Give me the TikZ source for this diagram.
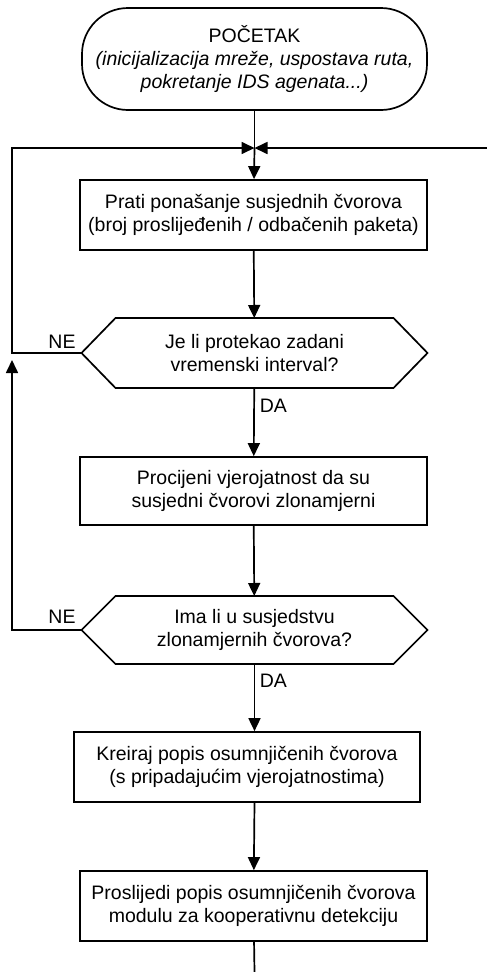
\documentclass[tikz,border=0pt]{standalone}
\usepackage{fontspec}
\setmainfont{Liberation Sans}
\usetikzlibrary{arrows.meta}

\begin{document}
\begin{tikzpicture}[x=1pt,y=1pt,line width=1.7pt,>={Triangle[length=13pt,width=12pt]},
  font=\fontsize{19.5}{23}\selectfont,
  box/.style={draw,minimum width=347pt,minimum height=70pt,align=center,inner sep=0pt},
  cond/.style={minimum width=278pt,minimum height=70pt,align=center,inner sep=0pt,outer sep=0pt},
  lbl/.style={inner sep=0pt}]
  \useasboundingbox (0,0) rectangle (487,-972);
  \node[box,rounded corners=46pt,minimum width=345pt,minimum height=102pt] (start) at (254.5,-59)
    {POČETAK\\\textit{(inicijalizacija mreže, uspostava ruta,}\\\textit{pokretanje IDS agenata...)}};
  \node[box] (box1) at (253.5,-215) {Prati ponašanje susjednih čvorova\\(broj proslijeđenih / odbačenih paketa)};
  \node[cond] (d1) at (254.5,-353) {Je li protekao zadani\\vremenski interval?};
  \node[box,minimum height=68pt] (box2) at (253.5,-491) {Procijeni vjerojatnost da su\\susjedni čvorovi zlonamjerni};
  \node[cond,minimum height=68pt] (d2) at (254.5,-630) {Ima li u susjedstvu\\zlonamjernih čvorova?};
  \node[box,minimum width=346pt] (box3) at (247,-767) {Kreiraj popis osumnjičenih čvorova\\(s pripadajućim vjerojatnostima)};
  \node[box] (box4) at (253.5,-906) {Proslijedi popis osumnjičenih čvorova\\modulu za kooperativnu detekciju};
  \foreach \d in {d1,d2}
    \draw (\d.north west) -- (\d.north east) -- ([xshift=34pt]\d.east) -- (\d.south east)
      -- (\d.south west) -- ([xshift=-34pt]\d.west) -- cycle;
  \node[lbl] (ne1) at (62,-342) {NE};
  \node[lbl] (ne2) at (62,-617) {NE};
  \node[lbl,anchor=west] (da1) at (259,-406) {DA};
  \node[lbl,anchor=west] (da2) at (259,-681) {DA};
  \coordinate (j) at (254.5,-148);
  \coordinate (cl) at (12,-148);
  \coordinate (cr) at (487,-148);
  \coordinate (d1l) at ([xshift=-34pt]d1.west);
  \coordinate (d2l) at ([xshift=-34pt]d2.west);
  \coordinate (l1) at (cl |- d1l);
  \coordinate (l2) at (cl |- d2l);
  \coordinate (fin) at (254.5,-972);
  \draw (start) -- (j);
  \draw[->] (j) -- (box1);
  \draw[->] (cr) -- (j);
  \draw[->] (d1l) -- (l1) -- (cl) -- (j);
  \draw[->,shorten >=7pt] (d2l) -- (l2) -- (l1);
  \draw[->] (box1) -- (d1);
  \draw[->] (d1) -- (box2);
  \draw[->] (box2) -- (d2);
  \draw[->] (d2.south) -- (d2.south |- box3.north);
  \draw[->] (d2.south |- box3.south) -- (box4);
  \draw (box4) -- (fin);
\end{tikzpicture}
\end{document}
